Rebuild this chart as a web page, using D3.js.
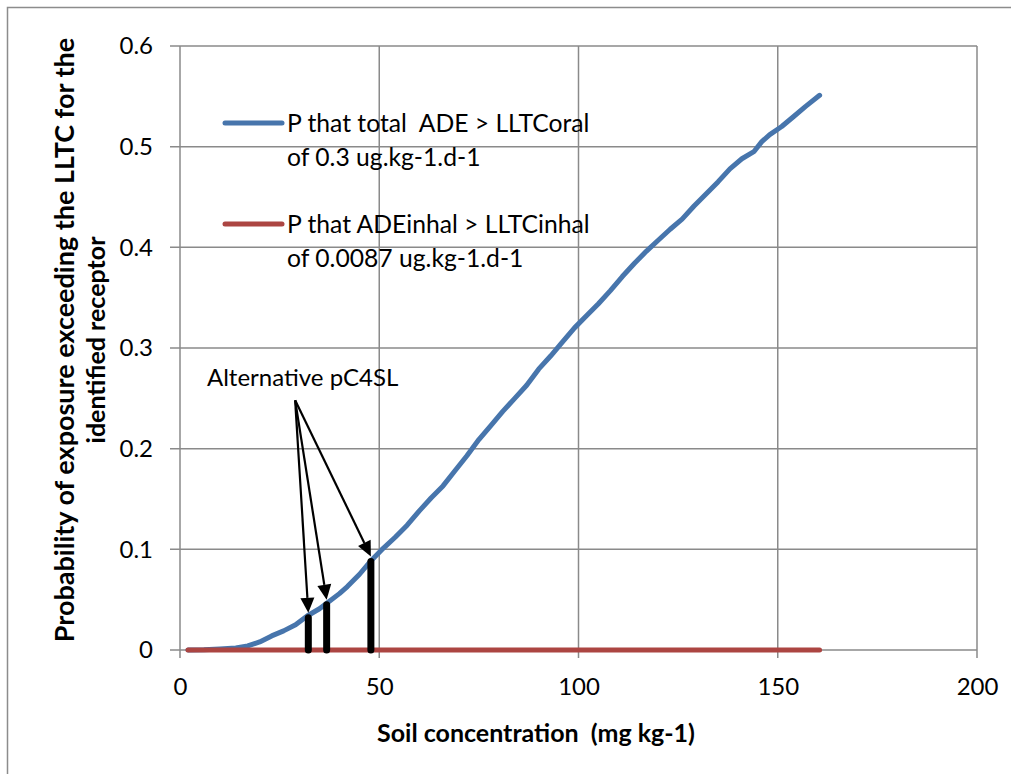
<!DOCTYPE html>
<html><head><meta charset="utf-8">
<script src="https://cdn.jsdelivr.net/npm/d3@7"></script>
<style>
html,body{margin:0;padding:0;background:#fff;}
svg{display:block;}
text{font-family:Lato, "Open Sans", sans-serif;fill:#000;}
</style></head>
<body>
<script>
// ---- data ----
const soilConc = [2,6,10,14,17,20,23,26,29,32,35,37,40,42,45,48,51,54,57,60,63,66,69,72,75,78,81,84,87,90,93,96,99,102,105,108,111,114,117,120,123,126,129,132,135,138,141,144,146,148,151,154,157,160.5];
const pTotalOral = [0,0.0003,0.001,0.002,0.004,0.008,0.014,0.019,0.025,0.034,0.041,0.047,0.056,0.063,0.075,0.089,0.101,0.112,0.124,0.138,0.151,0.163,0.178,0.193,0.209,0.223,0.237,0.250,0.263,0.279,0.292,0.306,0.320,0.332,0.344,0.357,0.371,0.384,0.396,0.407,0.418,0.428,0.441,0.453,0.465,0.478,0.488,0.495,0.505,0.512,0.520,0.530,0.540,0.551];
const pInhalX = [2, 160.5];
const pInhal = [0, 0];
const pc4slX = [32.2, 36.8, 47.9];
const pc4slY = [0.032, 0.045, 0.088];
const annotationLabel = "Alternative pC4SL";
const annotationAt = [28.9, 0.248];
const xTicks = [0,50,100,150,200];
const yTicks = [0,0.1,0.2,0.3,0.4,0.5,0.6];
const seriesNames = [["P that total  ADE > LLTCoral","of 0.3 ug.kg-1.d-1"],["P that ADEinhal > LLTCinhal","of 0.0087 ug.kg-1.d-1"]];
const xTitle = "Soil concentration  (mg kg-1)";
const yTitle = ["Probability of exposure exceeding the LLTC for the","identified receptor"];

// ---- layout ----
const W = 1011, H = 774;
const svg = d3.select("body").append("svg").attr("width", W).attr("height", H);
svg.append("rect").attr("x",7.5).attr("y",7.5).attr("width",1010).attr("height",770)
  .attr("fill","#fff").attr("stroke","#8c8c8c").attr("stroke-width",1.5);

const x = d3.scaleLinear().domain([0,200]).range([180,977]);
const y = d3.scaleLinear().domain([0,0.6]).range([650,46]);
const blue = "#4775AC", red = "#AC4542", grid = "#8a8a8a";

// gridlines
svg.append("g").selectAll("line").data(yTicks).join("line")
  .attr("x1", 170).attr("x2", x(200)).attr("y1", d=>y(d)).attr("y2", d=>y(d))
  .attr("stroke", grid).attr("stroke-width", 1.5);
svg.append("g").selectAll("line").data(xTicks).join("line")
  .attr("x1", d=>x(d)).attr("x2", d=>x(d)).attr("y1", y(0.6)).attr("y2", 658)
  .attr("stroke", grid).attr("stroke-width", 1.5);

// axes labels via d3 axes (no domain/tick lines)
const xAxis = svg.append("g").attr("transform",`translate(0,${y(0)})`)
  .call(d3.axisBottom(x).tickValues(xTicks).tickSize(0).tickPadding(28).tickFormat(d3.format("d")));
const yAxis = svg.append("g").attr("transform",`translate(${x(0)},0)`)
  .call(d3.axisLeft(y).tickValues(yTicks).tickSize(0).tickPadding(27).tickFormat(d=> d===0?"0":d3.format(".1f")(d)));
[xAxis,yAxis].forEach(g=>{
  g.select(".domain").remove();
  g.selectAll("text").attr("font-family","Lato, sans-serif").attr("font-size",24).attr("fill","#000");
});

// series lines
const line = d3.line().x(d=>x(d[0])).y(d=>y(d[1]));
svg.append("path").datum(d3.zip(soilConc,pTotalOral)).attr("d",line)
  .attr("fill","none").attr("stroke",blue).attr("stroke-width",5).attr("stroke-linecap","round").attr("stroke-linejoin","round");
svg.append("path").datum(d3.zip(pInhalX,pInhal)).attr("d",line)
  .attr("fill","none").attr("stroke",red).attr("stroke-width",5).attr("stroke-linecap","round");

// pC4SL bars
svg.append("g").selectAll("line").data(d3.zip(pc4slX,pc4slY)).join("line")
  .attr("x1",d=>x(d[0])).attr("x2",d=>x(d[0])).attr("y1",y(0)).attr("y2",d=>y(d[1]))
  .attr("stroke","#000").attr("stroke-width",7).attr("stroke-linecap","round");

// arrows
const ax = x(annotationAt[0]), ay = y(annotationAt[1]);
const aG = svg.append("g");
d3.zip(pc4slX,pc4slY).forEach(([cx,cy])=>{
  const tx = x(cx), ty = y(cy) - 5;
  const dx = tx-ax, dy = ty-ay, L = Math.hypot(dx,dy), ux=dx/L, uy=dy/L;
  const hl = 15, hw = 7;
  const bx = tx-ux*hl, by = ty-uy*hl;
  aG.append("line").attr("x1",ax).attr("y1",ay).attr("x2",bx).attr("y2",by)
    .attr("stroke","#000").attr("stroke-width",2.2);
  aG.append("polygon").attr("points",[[tx,ty],[bx-uy*hw,by+ux*hw],[bx+uy*hw,by-ux*hw]].map(p=>p.join(",")).join(" "))
    .attr("fill","#000");
});
svg.append("text").attr("x",207).attr("y",386).attr("font-family","'Liberation Sans', Arial, sans-serif")
  .attr("font-size",24).text(annotationLabel);

// legend
const legY = [123, 224];
seriesNames.forEach((lines,i)=>{
  svg.append("line").attr("x1",225).attr("x2",282).attr("y1",legY[i]).attr("y2",legY[i])
    .attr("stroke", i===0?blue:red).attr("stroke-width",5).attr("stroke-linecap","round");
  lines.forEach((t,j)=>{
    svg.append("text").attr("x",287).attr("y",legY[i]+9+j*33.5).attr("font-size",24.7)
      .attr("xml:space","preserve").style("white-space","pre").text(t);
  });
});

// axis titles
svg.append("text").attr("x",536).attr("y",742).attr("text-anchor","middle")
  .attr("font-weight","bold").attr("font-size",25).style("white-space","pre").text(xTitle);
yTitle.forEach((t,j)=>{
  svg.append("text").attr("transform",`translate(${74+j*31},340) rotate(-90)`).attr("text-anchor","middle")
    .attr("font-weight","bold").attr("font-size",j===0?27:25).text(t);
});
</script>
</body></html>
